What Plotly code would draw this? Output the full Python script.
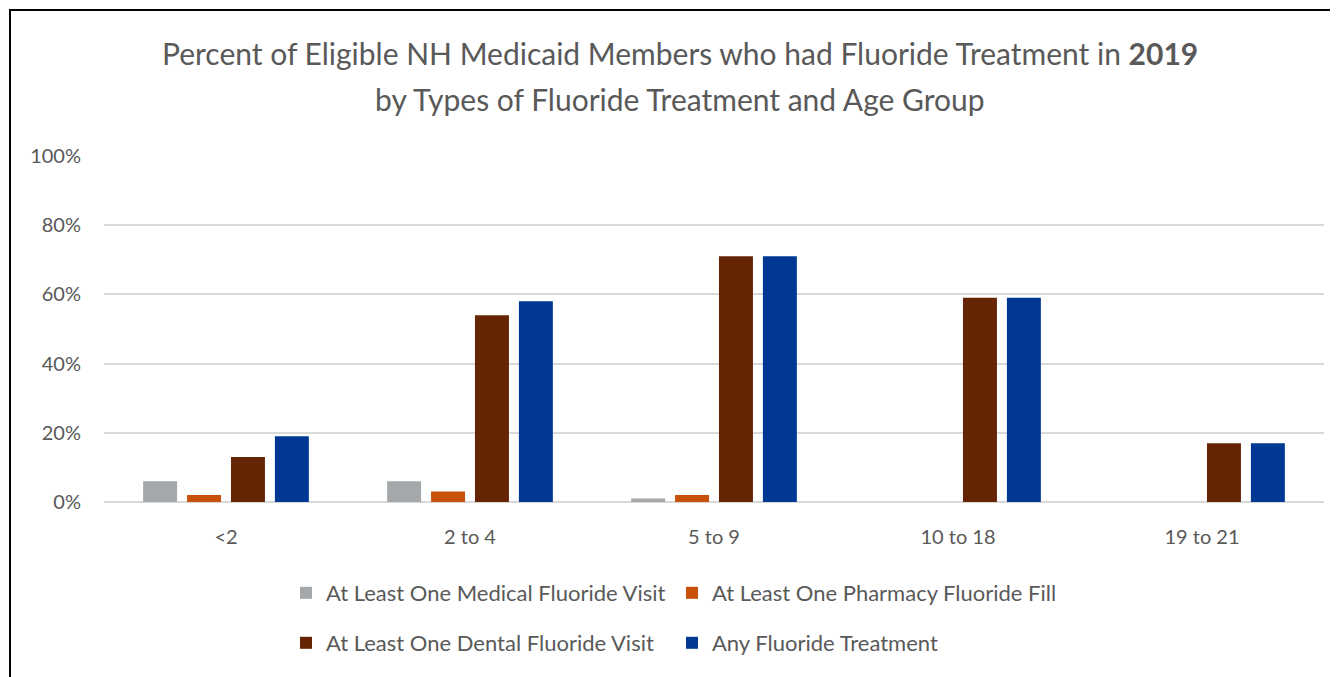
import plotly.graph_objects as go

categories = ["<2", "2 to 4", "5 to 9", "10 to 18", "19 to 21"]
series_names = [
    "At Least One Medical Fluoride Visit",
    "At Least One Pharmacy Fluoride Fill",
    "At Least One Dental Fluoride Visit",
    "Any Fluoride Treatment",
]
medical = [6, 6, 1, 0, 0]
pharmacy = [2, 3, 2, 0, 0]
dental = [13, 54, 71, 59, 17]
any_treatment = [19, 58, 71, 59, 17]
colors = ["#A5A8AA", "#C9510C", "#652404", "#003893"]
legend_ids = ["legend", "legend", "legend2", "legend2"]
y_ticks = [0, 20, 40, 60, 80, 100]
y_tick_labels = ["0%", "20%", "40%", "60%", "80%", "100%"]
title_lines = [
    "Percent of Eligible NH Medicaid Members who had Fluoride Treatment in <b>2019</b>",
    "by Types of Fluoride Treatment and Age Group",
]

FONT = "Lato"
TXT = "#595959"
OFF = 8  # page body margin

fig = go.Figure()
for name, vals, col, lg in zip(series_names, [medical, pharmacy, dental, any_treatment], colors, legend_ids):
    fig.add_trace(go.Bar(
        x=categories, y=vals, name=name, marker=dict(color=col, line=dict(width=0)),
        legend=lg, hoverinfo="x+y+name",
    ))

W, H = 1338 - OFF, 677 - OFF
# reference pixel coords (full window)
plot_l, plot_r, plot_t, plot_b = 104, 1324, 156, 502
ml = plot_l - OFF
mr = W - (plot_r - OFF)
mt = plot_t - OFF
mb = H - (plot_b - OFF)
pw, ph = W - ml - mr, H - mt - mb

def px_x(x):
    return (x - OFF - ml) / pw

def px_y(y):
    return ((plot_b - OFF) - (y - OFF)) / ph

annotations = []
for line, yy in zip(title_lines, [53, 99]):
    annotations.append(dict(
        text=line, xref="paper", yref="paper", x=px_x(680), y=px_y(yy),
        xanchor="center", yanchor="middle", showarrow=False,
        font=dict(family=FONT, size=30, color=TXT),
    ))

fig.update_layout(
    width=W, height=H,
    margin=dict(l=ml, r=mr, t=mt, b=mb),
    paper_bgcolor="white", plot_bgcolor="white",
    barmode="group", bargap=0.28, bargroupgap=0.227,
    font=dict(family=FONT, color=TXT, size=20),
    annotations=annotations,
    xaxis=dict(showgrid=False, showline=False, ticks="", tickfont=dict(size=20, color=TXT),
               ticklabelstandoff=21, fixedrange=True),
    yaxis=dict(
        range=[0, 100], tickvals=y_ticks, ticktext=y_tick_labels,
        showgrid=True, gridcolor="#D9D9D9", gridwidth=1.5, zeroline=True, zerolinecolor="#D9D9D9",
        zerolinewidth=1.5, tickfont=dict(size=20, color=TXT), ticklabelstandoff=22, fixedrange=True,
    ),
    legend=dict(
        orientation="h", x=px_x(286), xanchor="left", y=px_y(593), yanchor="middle",
        entrywidth=341, entrywidthmode="pixels", font=dict(size=22, color=TXT),
        traceorder="normal",
    ),
    legend2=dict(
        orientation="h", x=px_x(286), xanchor="left", y=px_y(643), yanchor="middle",
        entrywidth=341, entrywidthmode="pixels", font=dict(size=22, color=TXT),
        traceorder="normal",
    ),
    shapes=[dict(
        type="rect", xref="paper", yref="paper",
        x0=px_x(10), x1=px_x(1336), y0=px_y(690), y1=px_y(10),
        line=dict(color="black", width=2), fillcolor="rgba(0,0,0,0)", layer="above",
    )],
    showlegend=True,
)

fig.write_html("out.html")
